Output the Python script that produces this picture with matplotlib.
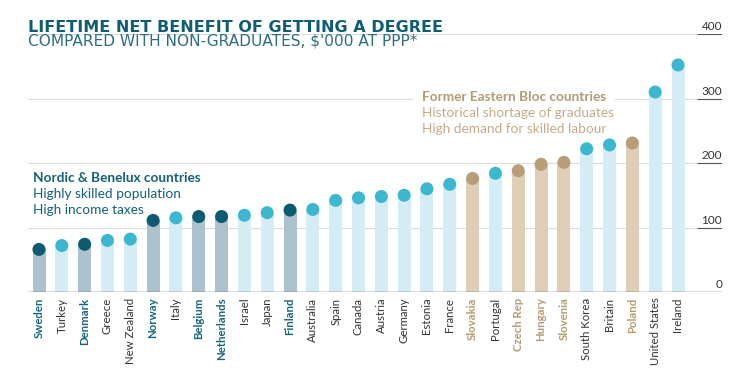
import matplotlib
matplotlib.use("Agg")
import matplotlib.pyplot as plt
from matplotlib.patches import Rectangle

countries = ["Sweden", "Turkey", "Denmark", "Greece", "New Zealand", "Norway", "Italy",
             "Belgium", "Netherlands", "Israel", "Japan", "Finland", "Australia", "Spain",
             "Canada", "Austria", "Germany", "Estonia", "France", "Slovakia", "Portugal",
             "Czech Rep", "Hungary", "Slovenia", "South Korea", "Britain", "Poland",
             "United States", "Ireland"]
values = [66, 72, 74, 80, 82, 111, 115, 117, 117, 119, 123, 127, 128, 142, 146,
          148, 150, 160, 167, 176, 184, 188, 198, 201, 222, 228, 231, 310, 352]
groups = ["N", "O", "N", "O", "O", "N", "O", "N", "N", "O", "O", "N", "O", "O", "O",
          "O", "O", "O", "O", "E", "O", "E", "E", "E", "O", "O", "E", "O", "O"]
yticks = [0, 100, 200, 300, 400]

bar_col = {"N": "#adc2cf", "O": "#d4ecf3", "E": "#dfcdb7"}
dot_col = {"N": "#0c5b70", "O": "#3cb7cf", "E": "#b99d77"}
lab_col = {"N": "#17657c", "O": "#333333", "E": "#b59b74"}

W, H = 742, 370
fig = plt.figure(figsize=(W / 100, H / 100), dpi=100)
fig.patch.set_facecolor("white")
ax = fig.add_axes([28 / W, (H - 292) / H, (722 - 28) / W, (292 - 34) / H])

sp = (678 - 39) / 28
xl = -11 / sp
xr = 28 + 44 / sp
ax.set_xlim(xl, xr)
ax.set_ylim(0, 400)

x = list(range(len(countries)))
ax.bar(x, values, width=13 / sp, color=[bar_col[g] for g in groups], zorder=2)
ax.scatter(x, values, s=88, color=[dot_col[g] for g in groups], zorder=3, linewidths=0)

for t in yticks[1:]:
    ax.axhline(t, color="#dcdcdc", lw=0.8, zorder=1)
    ax.plot([xr - 25 / sp, xr], [t, t], color="#555555", lw=0.8, zorder=4, solid_capstyle="butt")
ax.axhline(0, color="#555555", lw=1.0, zorder=4)

# white backing behind the Eastern Bloc note
ax.add_patch(Rectangle((413 / W, 1 - 140 / H), (615 - 413) / W, (140 - 86) / H,
                       transform=fig.transFigure, facecolor="white", edgecolor="none",
                       zorder=1.5))

for t in yticks:
    ax.text(xr, t + 3, str(t), ha="right", va="bottom", fontsize=8.5,
            family="Lato", color="#333333", zorder=5)

for s in ax.spines.values():
    s.set_visible(False)
ax.set_yticks([])
ax.set_xticks(x)
ax.set_xticklabels(countries, rotation=90, fontsize=8.2, family="Lato")
for lbl, g in zip(ax.get_xticklabels(), groups):
    lbl.set_color(lab_col[g])
    if g != "O":
        lbl.set_fontweight("bold")
ax.tick_params(axis="x", length=0, pad=4)

# Titles (font size fitted to the reference text width)
title = fig.text(28 / W, 1 - 32.3 / H, "LIFETIME NET BENEFIT OF GETTING A DEGREE",
                 family="DejaVu Sans", fontweight="bold", fontsize=10.5, color="#0e5d73",
                 va="baseline", ha="left")
sub = fig.text(28 / W, 1 - 46 / H, "COMPARED WITH NON-GRADUATES, $'000 AT PPP*",
               family="DejaVu Sans", fontsize=8.5, color="#2b6e82", va="baseline", ha="left")
r = fig.canvas.get_renderer()
for txt, target in ((title, 417), (sub, 388)):
    w = txt.get_window_extent(renderer=r).width
    txt.set_fontsize(txt.get_fontsize() * target / w)

# Annotations
fs = 9.8
fig.text(33 / W, 1 - 181.7 / H, "Nordic & Benelux countries", family="Lato", fontweight="bold",
         fontsize=fs, color="#12617a", va="baseline", ha="left")
fig.text(33 / W, 1 - 197.7 / H, "Highly skilled population", family="Lato",
         fontsize=fs, color="#12617a", va="baseline", ha="left")
fig.text(33 / W, 1 - 214 / H, "High income taxes", family="Lato",
         fontsize=fs, color="#12617a", va="baseline", ha="left")

fig.text(421.7 / W, 1 - 100.7 / H, "Former Eastern Bloc countries", family="Lato",
         fontweight="bold", fontsize=fs, color="#b39a74", va="baseline", ha="left")
fig.text(421.7 / W, 1 - 116.7 / H, "Historical shortage of graduates", family="Lato",
         fontsize=fs, color="#c4ab88", va="baseline", ha="left")
fig.text(421.7 / W, 1 - 133.3 / H, "High demand for skilled labour", family="Lato",
         fontsize=fs, color="#c4ab88", va="baseline", ha="left")

fig.savefig("out.png", dpi=100, facecolor="white")
